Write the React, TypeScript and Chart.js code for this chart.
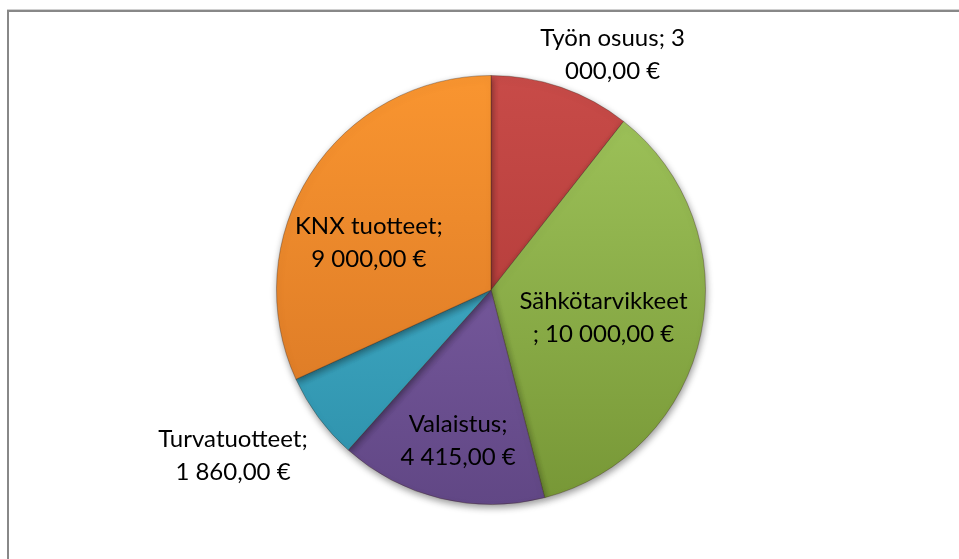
import React, { useEffect, useRef } from "react";
import { Chart, registerables } from "chart.js";

Chart.register(...registerables);

const categories = ["Työn osuus", "Sähkötarvikkeet", "Valaistus", "Turvatuotteet", "KNX tuotteet"];
const values = [3000, 10000, 4415, 1860, 9000];
const labelLines = [
  ["Työn osuus; 3", "000,00 €"],
  ["Sähkötarvikkeet", "; 10 000,00 €"],
  ["Valaistus;", "4 415,00 €"],
  ["Turvatuotteet;", "1 860,00 €"],
  ["KNX tuotteet;", "9 000,00 €"],
];

const topColors = ["#C84B48", "#A0C55C", "#8666AE", "#4CB9D4", "#F99530"];
const bottomColors = ["#A83432", "#779736", "#614785", "#2C8FA9", "#D57424"];
// label placement: radius factor and angle offset (deg) relative to slice mid-angle
const labelPlacement = [
  { f: 1.236, off: 8.2 },
  { f: 0.54, off: 2 },
  { f: 0.72, off: -1.3 },
  { f: 1.43, off: 3.7 },
  { f: 0.61, off: -11.7 },
];

const framePlugin = {
  id: "frame",
  beforeDraw(chart: any) {
    const ctx = chart.ctx;
    ctx.save();
    ctx.fillStyle = "#ffffff";
    ctx.fillRect(0, 0, chart.width, chart.height);
    ctx.fillStyle = "#d0d0d0";
    ctx.fillRect(7, 9, chart.width - 7, 1);
    ctx.fillStyle = "#888888";
    ctx.fillRect(7, 10, chart.width - 7, 2);
    ctx.fillRect(7, 10, 2, chart.height - 10);
    ctx.restore();
  },
};

const shadowPlugin = {
  id: "pieShadow",
  beforeDatasetsDraw(chart: any) {
    const ctx = chart.ctx;
    ctx.save();
    ctx.shadowColor = "rgba(0,0,0,0.4)";
    ctx.shadowBlur = 7;
    ctx.shadowOffsetX = 1;
    ctx.shadowOffsetY = 3;
  },
  afterDatasetsDraw(chart: any) {
    chart.ctx.restore();
  },
};

const labelPlugin = {
  id: "sliceLabels",
  afterDatasetsDraw(chart: any) {
    const ctx = chart.ctx;
    const meta = chart.getDatasetMeta(0);
    ctx.save();
    ctx.shadowColor = "transparent";
    ctx.font = "24px Lato, 'Open Sans', sans-serif";
    ctx.fillStyle = "#000000";
    ctx.textAlign = "center";
    ctx.textBaseline = "middle";
    const lh = 33;
    meta.data.forEach((arc: any, i: number) => {
      const p = arc.getProps(["x", "y", "startAngle", "endAngle", "outerRadius"], true);
      const mid = (p.startAngle + p.endAngle) / 2 + (labelPlacement[i].off * Math.PI) / 180;
      const r = p.outerRadius * labelPlacement[i].f;
      const cx = p.x + Math.cos(mid) * r;
      const cy = p.y + Math.sin(mid) * r;
      const lines = labelLines[i];
      lines.forEach((t, k) => {
        ctx.fillText(t, cx, cy + (k - (lines.length - 1) / 2) * lh);
      });
    });
    ctx.restore();
  },
};

export default function App() {
  const ref = useRef<HTMLCanvasElement | null>(null);
  useEffect(() => {
    if (!ref.current) return;
    const chart = new Chart(ref.current, {
      type: "pie",
      data: {
        labels: categories,
        datasets: [
          {
            data: values,
            backgroundColor: (c: any) => {
              const area = c.chart.chartArea;
              const i = c.dataIndex;
              if (!area || i === undefined) return topColors[i || 0];
              const g = c.chart.ctx.createLinearGradient(0, area.top, 0, area.bottom);
              g.addColorStop(0, topColors[i]);
              g.addColorStop(1, bottomColors[i]);
              return g;
            },
            borderColor: "rgba(60,40,30,0.35)",
            borderWidth: 1,
          },
        ],
      },
      options: {
        responsive: false,
        animation: false,
        layout: { padding: { top: 75, bottom: 54, left: 276, right: 253 } },
        plugins: {
          legend: { display: false },
          tooltip: { enabled: false },
        },
      },
      plugins: [framePlugin, shadowPlugin, labelPlugin],
    });
    return () => chart.destroy();
  }, []);
  return (
    <div style={{ position: "fixed", left: 0, top: 0, width: 959, height: 559, background: "#fff" }}>
      <canvas ref={ref} width={959} height={559} style={{ display: "block" }} />
    </div>
  );
}
